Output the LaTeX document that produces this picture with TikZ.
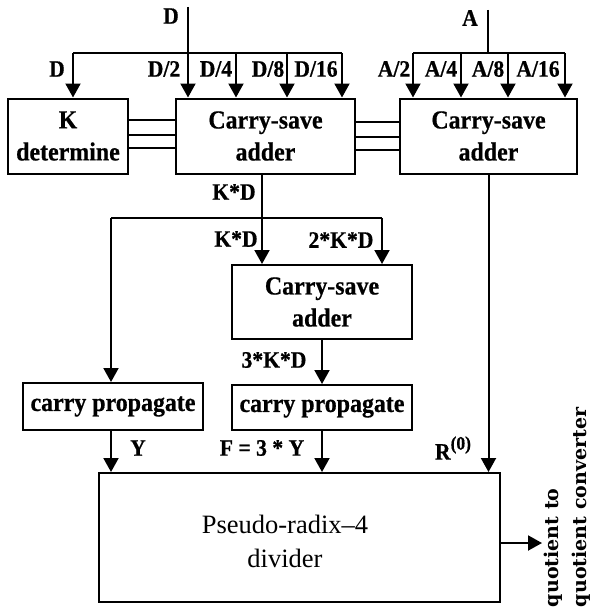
\documentclass[tikz,border=0pt]{standalone}
\usepackage{fontspec}
\setmainfont{Liberation Serif}
\newfontfamily\scanfont[FakeStretch=0.92,BoldFeatures={FakeBold=0.6}]{Liberation Serif}
\newfontfamily\rotfont{DejaVu Serif}
\usetikzlibrary{arrows.meta}
\begin{document}
\begin{tikzpicture}[x=1pt,y=-1pt,>={Triangle[width=15pt,length=14pt]},line width=2pt,
    blk/.style={draw,line width=2pt,inner sep=0pt,align=center,
      font=\scanfont\bfseries\fontsize{26}{32}\selectfont},
    lbl/.style={inner sep=0pt,font=\scanfont\bfseries\fontsize{23.5}{28}\selectfont}]
    \useasboundingbox (0,0) rectangle (592,610);
    % blocks
    \node[blk,minimum width=120pt,minimum height=75pt] (K) at (68,136) {K\\determine};
    \node[blk,minimum width=179pt,minimum height=75pt] (csaD) at (265.5,136) {Carry-save\\adder};
    \node[blk,minimum width=177pt,minimum height=75pt] (csaA) at (488.5,136) {Carry-save\\adder};
    \node[blk,minimum width=180pt,minimum height=74pt] (csaK) at (322,302) {Carry-save\\adder};
    \node[blk,minimum width=180pt,minimum height=47pt] (cpY) at (113,406.5) {carry propagate};
    \node[blk,minimum width=180pt,minimum height=45pt] (cpF) at (322,407.5) {carry propagate};
    \node[draw,line width=2pt,minimum width=401pt,minimum height=129pt] (div) at (299.5,537.5) {};
    \node[align=center,inner sep=0pt,font=\fontsize{26.5}{34}\selectfont] (divtxt) at (285,541)
      {Pseudo-radix--4\\divider};
    % D inputs
    \coordinate (Din) at (188,7);
    \coordinate (dL) at (73,53);
    \coordinate (dR) at (342,53);
    \draw (dL) -- (dR);
    \draw[->] (dL) -- (dL |- K.north);
    \foreach \n/\x in {d2/188,d4/236,d8/287,d16/342} {
      \coordinate (\n) at (\x,53);
      \draw[->] (\n) -- (\n |- csaD.north);
    }
    \draw (Din) -- (d2);
    \node[lbl] (lD) at (171,16) {D};
    \node[lbl] (lD1) at (57,69) {D};
    \node[lbl] (lD2) at (164,69) {D/2};
    \node[lbl] (lD4) at (216,69) {D/4};
    \node[lbl] (lD8) at (268,69) {D/8};
    \node[lbl] (lD16) at (316,69) {D/16};
    % A inputs
    \coordinate (Ain) at (488,10);
    \coordinate (aJ) at (488,53);
    \coordinate (aL) at (413,53);
    \coordinate (aR) at (565,53);
    \draw (Ain) -- (aJ);
    \draw (aL) -- (aR);
    \foreach \n/\x in {a2/413,a4/461,a8/508,a16/565} {
      \coordinate (\n) at (\x,53);
      \draw[->] (\n) -- (\n |- csaA.north);
    }
    \node[lbl] (lA) at (470,18) {A};
    \node[lbl] (lA2) at (394,69) {A/2};
    \node[lbl] (lA4) at (441,69) {A/4};
    \node[lbl] (lA8) at (488,69) {A/8};
    \node[lbl] (lA16) at (538,69) {A/16};
    % buses between the adders
    \foreach \s in {16,1,-12}
      \draw ([yshift=\s pt]K.east) -- ([yshift=\s pt]K.east -| csaD.west);
    \foreach \s in {14,-1,-14}
      \draw ([yshift=\s pt]csaD.east) -- ([yshift=\s pt]csaD.east -| csaA.west);
    % K*D
    \coordinate (kdJ) at (262,218);
    \coordinate (kdL) at (111,218);
    \coordinate (kdR) at (382,218);
    \draw[->] (kdJ |- csaD.south) -- (kdJ |- csaK.north);
    \draw (kdL) -- (kdR);
    \draw[->] (kdL) -- (kdL |- cpY.north);
    \draw[->] (kdR) -- (kdR |- csaK.north);
    \node[lbl] (lKD) at (234,192) {K*D};
    \node[lbl] (lKD2) at (236,239) {K*D};
    \node[lbl] (l2KD) at (341,240) {2*K*D};
    \draw[->] (csaK.south) -- (csaK.south |- cpF.north);
    \node[lbl] (l3KD) at (274,360) {3*K*D};
    % into the divider
    \draw[->] (kdL |- cpY.south) -- (kdL |- div.north);
    \draw[->] (cpF.south) -- (cpF.south |- div.north);
    \draw[->] (csaA.south) -- (csaA.south |- div.north);
    \node[lbl] (lY) at (138,448) {Y};
    \node[lbl] (lF) at (262,448) {F = 3 * Y};
    \node[lbl] (lR) at (453,448) {R\raisebox{10pt}{\fontsize{19}{19}\selectfont(0)}};
    % output
    \coordinate (q) at (542,543);
    \draw[->] (div.east |- q) -- (q);
    \node[rotate=90,anchor=north west,align=left,inner sep=0pt,
      font=\rotfont\bfseries\fontsize{19}{28}\selectfont] (qc) at (543,608)
      {quotient to\\quotient converter};
\end{tikzpicture}
\end{document}
